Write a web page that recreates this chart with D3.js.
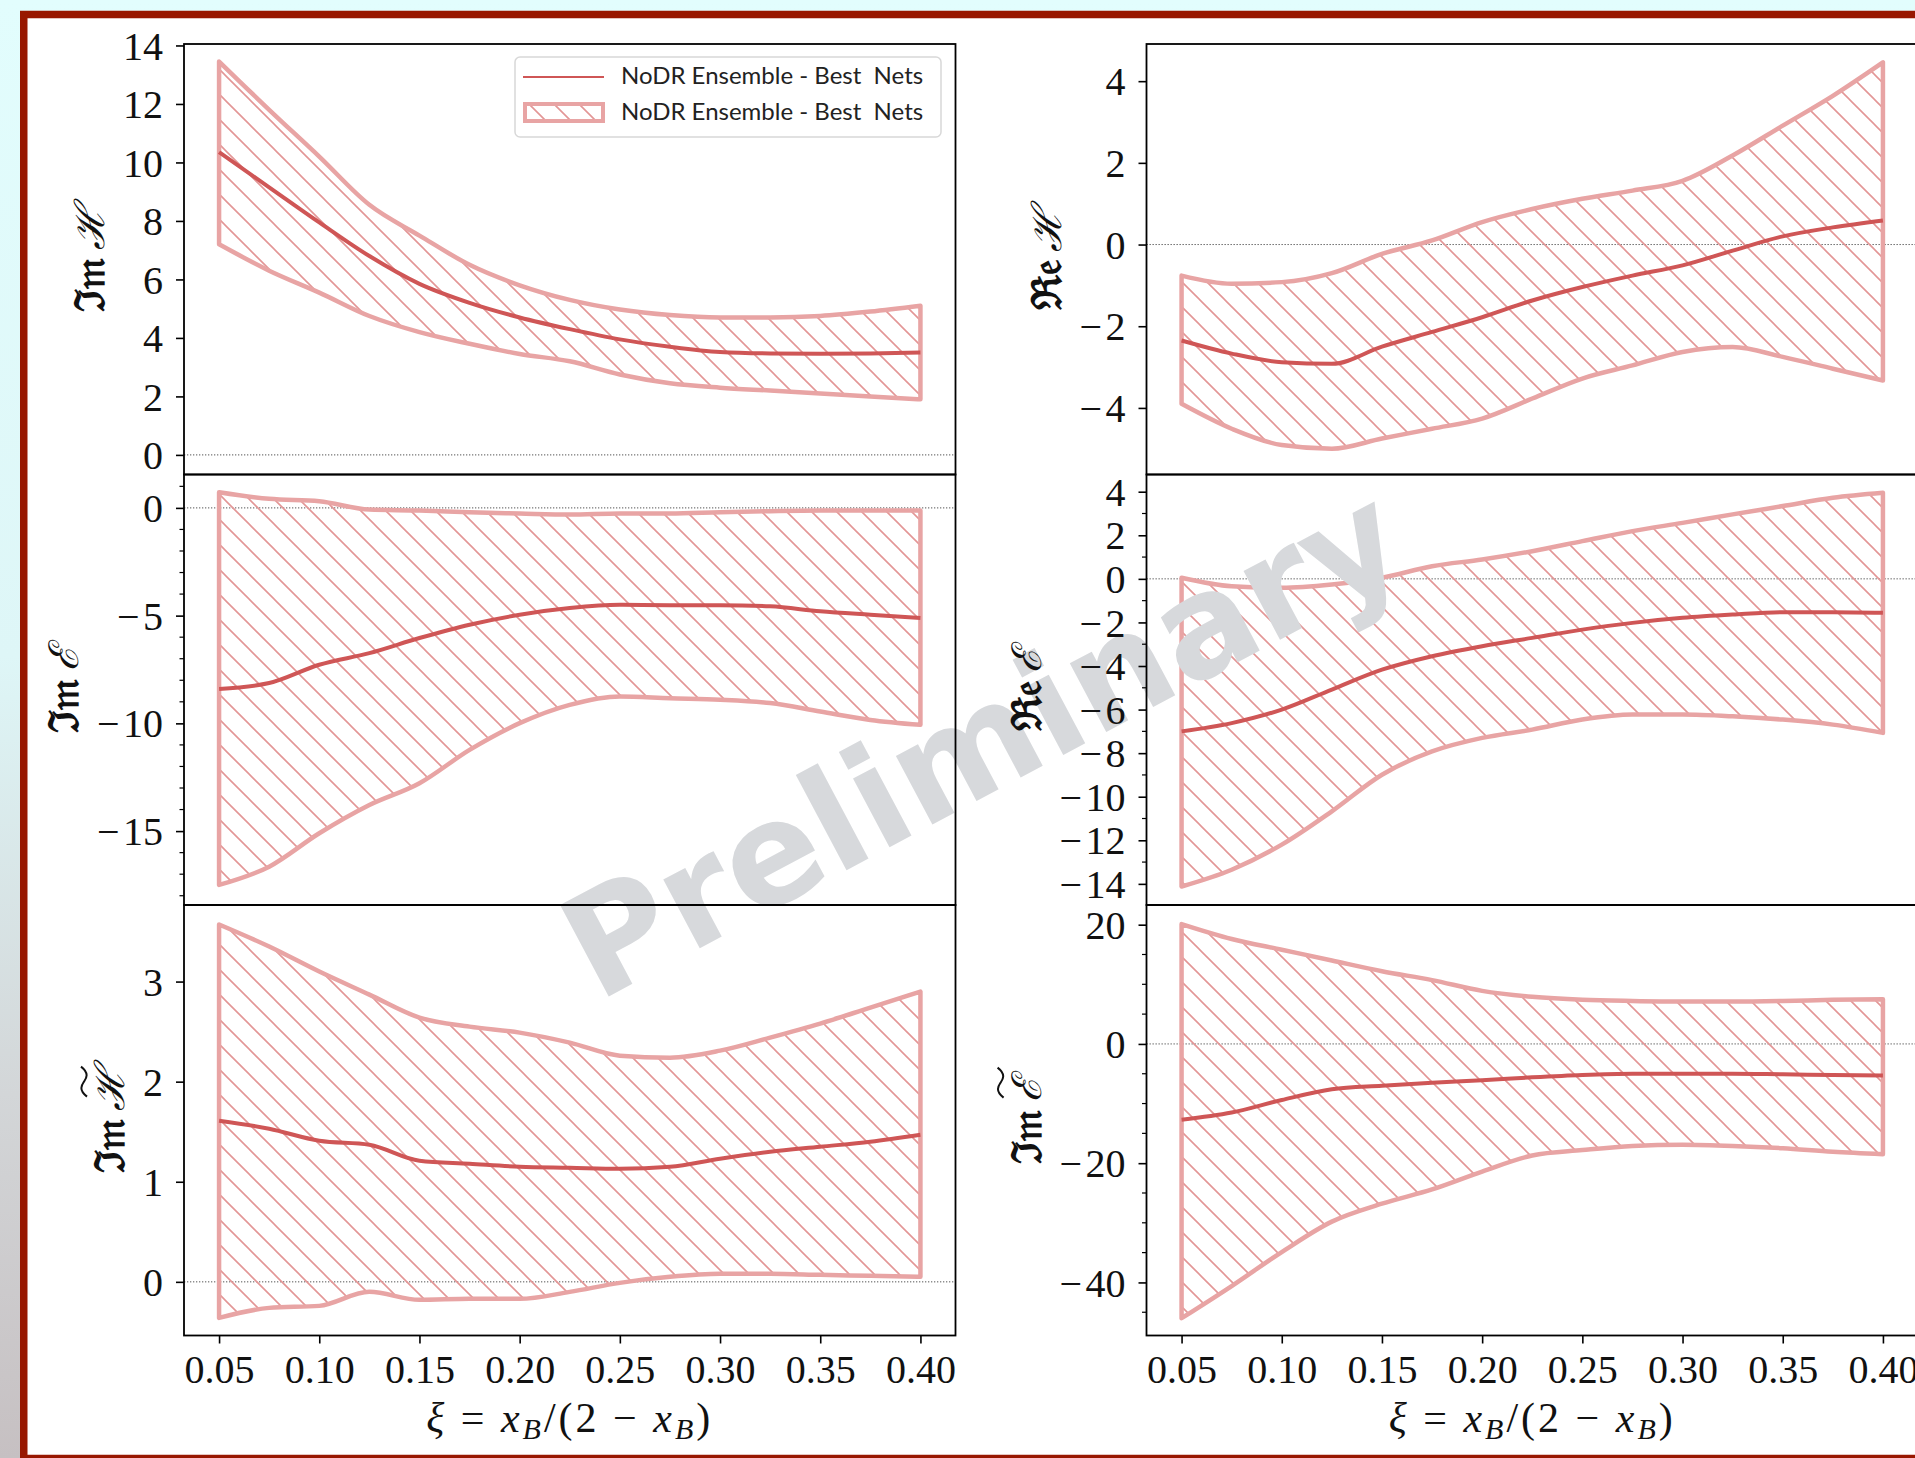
<!DOCTYPE html>
<html>
<head>
<meta charset="utf-8">
<script src="https://cdn.jsdelivr.net/npm/d3@7"></script>
<style>
  body { margin: 0; background: #e2fcfd; }
</style>
</head>
<body>
<div id="main-section"></div>
<script>
// xi grid shared by all six panels
const xi = [0.05, 0.075, 0.10, 0.125, 0.15, 0.175, 0.20, 0.225, 0.25, 0.275, 0.30, 0.325, 0.35, 0.375, 0.40];
const xTicks = [0.05, 0.10, 0.15, 0.20, 0.25, 0.30, 0.35, 0.40];

// Im H
const imH_mean  = [10.35, 9.15, 7.95, 6.8, 5.85, 5.2, 4.7, 4.3, 3.95, 3.7, 3.52, 3.47, 3.46, 3.47, 3.5];
const imH_upper = [13.45, 11.8, 10.2, 8.55, 7.5, 6.5, 5.8, 5.3, 4.97, 4.78, 4.7, 4.7, 4.75, 4.9, 5.1];
const imH_lower = [7.2, 6.3, 5.55, 4.75, 4.2, 3.8, 3.45, 3.2, 2.75, 2.45, 2.3, 2.2, 2.1, 2.0, 1.9];
const imH_ticks = [0, 2, 4, 6, 8, 10, 12, 14];

// Re H
const reH_mean  = [-2.35, -2.67, -2.88, -2.92, -2.5, -2.14, -1.78, -1.37, -1.04, -0.76, -0.51, -0.15, 0.2, 0.42, 0.59];
const reH_upper = [-0.76, -0.96, -0.92, -0.7, -0.23, 0.1, 0.55, 0.87, 1.12, 1.32, 1.56, 2.18, 2.91, 3.64, 4.46];
const reH_lower = [-3.9, -4.51, -4.91, -5.0, -4.75, -4.51, -4.26, -3.77, -3.28, -2.96, -2.63, -2.51, -2.75, -3.04, -3.33];
const reH_ticks = [-4, -2, 0, 2, 4];

// Im E
const imE_mean  = [-8.4, -8.13, -7.28, -6.74, -6.04, -5.42, -4.96, -4.65, -4.5, -4.52, -4.52, -4.57, -4.8, -4.96, -5.11];
const imE_upper = [0.73, 0.42, 0.31, -0.08, -0.12, -0.2, -0.26, -0.31, -0.26, -0.26, -0.2, -0.15, -0.12, -0.12, -0.12];
const imE_lower = [-17.5, -16.65, -15.1, -13.79, -12.78, -11.23, -9.99, -9.14, -8.75, -8.83, -8.9, -9.06, -9.45, -9.84, -10.07];
const imE_ticks = [-15, -10, -5, 0];

// Re E
const reE_mean  = [-7.0, -6.62, -6.0, -5.08, -4.17, -3.55, -3.09, -2.71, -2.33, -2.02, -1.79, -1.64, -1.53, -1.53, -1.56];
const reE_upper = [0.05, -0.34, -0.41, -0.26, 0.05, 0.58, 0.89, 1.27, 1.73, 2.19, 2.57, 2.96, 3.34, 3.72, 3.95];
const reE_lower = [-14.12, -13.35, -12.2, -10.67, -8.99, -7.92, -7.3, -6.92, -6.46, -6.23, -6.23, -6.31, -6.46, -6.69, -7.07];
const reE_ticks = [-14, -12, -10, -8, -6, -4, -2, 0, 2, 4];

// Im H tilde
const imHt_mean  = [1.61, 1.53, 1.41, 1.37, 1.21, 1.18, 1.15, 1.14, 1.13, 1.15, 1.23, 1.30, 1.35, 1.40, 1.47];
const imHt_upper = [3.57, 3.35, 3.1, 2.87, 2.64, 2.55, 2.49, 2.39, 2.26, 2.24, 2.31, 2.44, 2.58, 2.74, 2.9];
const imHt_lower = [-0.36, -0.26, -0.24, -0.1, -0.18, -0.17, -0.17, -0.1, -0.01, 0.05, 0.08, 0.08, 0.07, 0.06, 0.05];
const imHt_ticks = [0, 1, 2, 3];

// Im E tilde
const imEt_mean  = [-12.7, -11.5, -9.4, -7.6, -7.0, -6.5, -6.1, -5.6, -5.2, -5.0, -5.0, -5.0, -5.1, -5.2, -5.3];
const imEt_upper = [20.1, 17.6, 15.8, 14.0, 12.2, 10.7, 8.9, 7.9, 7.4, 7.2, 7.1, 7.1, 7.2, 7.4, 7.5];
const imEt_lower = [-46.0, -40.6, -34.9, -29.8, -26.8, -24.4, -21.4, -18.7, -17.8, -17.1, -16.9, -17.1, -17.5, -18.1, -18.5];
const imEt_ticks = [-40, -20, 0, 20];

const legendLabel = "NoDR Ensemble - Best  Nets";

const W = 1915, H = 1458;
const colX = [184, 1146.5];
const rowY = [44, 474.5, 905];
const panelW = 771.5, panelH = 430.5;
const xDomain = [0.0325, 0.4175];

const lineColor = "#cf5656";
const bandColor = "#e8a4a4";
const hatchColor = "#e39696";
const serif = "\"Liberation Serif\", \"DejaVu Serif\", serif";

const panels = [
  { col: 0, row: 0, mean: imH_mean, up: imH_upper, lo: imH_lower, dom: [-0.67, 14.05], ticks: imH_ticks, minor: null, fr: "\u2111\u{1D52A}", sym: "\u210B", tilde: false, legend: true },
  { col: 1, row: 0, mean: reH_mean, up: reH_upper, lo: reH_lower, dom: [-5.63, 4.91], ticks: reH_ticks, minor: null, fr: "\u211C\u{1D522}", sym: "\u210B", tilde: false },
  { col: 0, row: 1, mean: imE_mean, up: imE_upper, lo: imE_lower, dom: [-18.43, 1.55], ticks: imE_ticks, minor: 1, fr: "\u2111\u{1D52A}", sym: "\u2130", tilde: false },
  { col: 1, row: 1, mean: reE_mean, up: reE_upper, lo: reE_lower, dom: [-14.97, 4.79], ticks: reE_ticks, minor: 1, fr: "\u211C\u{1D522}", sym: "\u2130", tilde: false },
  { col: 0, row: 2, mean: imHt_mean, up: imHt_upper, lo: imHt_lower, dom: [-0.536, 3.765], ticks: imHt_ticks, minor: null, fr: "\u2111\u{1D52A}", sym: "\u210B", tilde: true, xaxis: true },
  { col: 1, row: 2, mean: imEt_mean, up: imEt_upper, lo: imEt_lower, dom: [-48.9, 23.3], ticks: imEt_ticks, minor: 5, fr: "\u2111\u{1D52A}", sym: "\u2130", tilde: true, xaxis: true }
];

const svg = d3.select("#main-section")
  .append("svg")
    .attr("width", W)
    .attr("height", H)
    .style("display", "block");

const defs = svg.append("defs");

const grad = defs.append("linearGradient")
  .attr("id", "bg-grad")
  .attr("x1", 0).attr("y1", 0).attr("x2", 0).attr("y2", 1);
grad.append("stop").attr("offset", "0%").attr("stop-color", "#e2fdfd");
grad.append("stop").attr("offset", "45%").attr("stop-color", "#def6f7");
grad.append("stop").attr("offset", "75%").attr("stop-color", "#d3d6d8");
grad.append("stop").attr("offset", "100%").attr("stop-color", "#c6c0c2");

const hatch = defs.append("pattern")
  .attr("id", "hatch")
  .attr("patternUnits", "userSpaceOnUse")
  .attr("width", 25)
  .attr("height", 25);
hatch.append("path")
  .attr("d", "M0,0L25,25M-5,20L5,30M20,-5L30,5")
  .attr("stroke", hatchColor)
  .attr("stroke-width", 1.6)
  .attr("fill", "none");

// background + frame
svg.append("rect").attr("x", 0).attr("y", 0).attr("width", W).attr("height", H).attr("fill", "url(#bg-grad)");
svg.append("rect")
  .attr("x", 23.75).attr("y", 14.5)
  .attr("width", W + 40).attr("height", 1444)
  .attr("fill", "white")
  .attr("stroke", "#981700")
  .attr("stroke-width", 7.5);

const dataLayer = svg.append("g");
const markLayer = svg.append("g");
const axisLayer = svg.append("g");

function fmtY(d) { return d < 0 ? "\u2212\u200A" + Math.abs(d) : String(d); }

panels.forEach(function(p, i) {
  const x0 = colX[p.col], y0 = rowY[p.row];
  const x = d3.scaleLinear().domain(xDomain).range([x0, x0 + panelW]);
  const y = d3.scaleLinear().domain(p.dom).range([y0 + panelH, y0]);

  defs.append("clipPath").attr("id", "clip-" + i)
    .append("rect").attr("x", x0).attr("y", y0).attr("width", panelW).attr("height", panelH);

  const g = dataLayer.append("g").attr("clip-path", "url(#clip-" + i + ")");

  // zero line
  g.append("line")
    .attr("x1", x0).attr("x2", x0 + panelW)
    .attr("y1", y(0)).attr("y2", y(0))
    .attr("stroke", "#555")
    .attr("stroke-width", 1)
    .attr("stroke-dasharray", "1.3,1.7");

  const band = d3.area()
    .x(function(d, k) { return x(xi[k]); })
    .y0(function(d, k) { return y(p.lo[k]); })
    .y1(function(d, k) { return y(p.up[k]); })
    .curve(d3.curveMonotoneX);

  g.append("path")
    .datum(xi)
    .attr("d", band)
    .attr("fill", "url(#hatch)")
    .attr("stroke", bandColor)
    .attr("stroke-width", 4.5)
    .attr("stroke-linejoin", "round");

  const line = d3.line()
    .x(function(d, k) { return x(xi[k]); })
    .y(function(d) { return y(d); })
    .curve(d3.curveMonotoneX);

  g.append("path")
    .datum(p.mean)
    .attr("d", line)
    .attr("fill", "none")
    .attr("stroke", lineColor)
    .attr("stroke-width", 4);

  // axes
  const a = axisLayer.append("g");

  const yAxis = a.append("g")
    .attr("transform", "translate(" + x0 + ",0)")
    .call(d3.axisLeft(y).tickValues(p.ticks).tickSize(8).tickPadding(13).tickFormat(fmtY));
  yAxis.attr("font-family", null).attr("font-size", null);
  yAxis.select(".domain").remove();
  yAxis.selectAll(".tick line").attr("stroke", "#000").attr("stroke-width", 1.6);
  yAxis.selectAll(".tick text")
    .style("font-family", serif)
    .style("font-size", "40px")
    .attr("fill", "#111")
    .attr("dy", "0.34em");

  if (p.minor) {
    const minorTicks = d3.range(Math.ceil(p.dom[0] / p.minor) * p.minor, p.dom[1], p.minor)
      .filter(function(v) { return p.ticks.indexOf(Math.round(v * 1000) / 1000) < 0; });
    a.selectAll(null)
      .data(minorTicks).enter()
      .append("line")
        .attr("x1", x0 - 4.5).attr("x2", x0)
        .attr("y1", function(d) { return y(d); })
        .attr("y2", function(d) { return y(d); })
        .attr("stroke", "#000")
        .attr("stroke-width", 1.2);
  }

  if (p.xaxis) {
    const xAxis = a.append("g")
      .attr("transform", "translate(0," + (y0 + panelH) + ")")
      .call(d3.axisBottom(x).tickValues(xTicks).tickSize(8).tickPadding(9)
        .tickFormat(d3.format(".2f")));
    xAxis.attr("font-family", null).attr("font-size", null);
    xAxis.select(".domain").remove();
    xAxis.selectAll(".tick line").attr("stroke", "#000").attr("stroke-width", 1.6);
    xAxis.selectAll(".tick text")
      .style("font-family", serif)
      .style("font-size", "40px")
      .attr("fill", "#111")
      .attr("dy", "0.76em");

    const xl = a.append("text")
      .attr("x", x0 + panelW / 2)
      .attr("y", 1432)
      .attr("text-anchor", "middle")
      .style("font-family", serif)
      .style("font-size", "42px")
      .style("letter-spacing", "3px")
      .attr("fill", "#111");
    xl.append("tspan").attr("font-style", "italic").text("\u03BE");
    xl.append("tspan").text(" = ");
    xl.append("tspan").attr("font-style", "italic").text("x");
    xl.append("tspan").attr("font-style", "italic").style("font-size", "30px").attr("dy", 7).text("B");
    xl.append("tspan").attr("dy", -7).text("/(2 \u2212 ");
    xl.append("tspan").attr("font-style", "italic").text("x");
    xl.append("tspan").attr("font-style", "italic").style("font-size", "30px").attr("dy", 7).text("B");
    xl.append("tspan").attr("dy", -7).text(")");
  }

  // frame
  a.append("rect")
    .attr("x", x0).attr("y", y0)
    .attr("width", panelW).attr("height", panelH)
    .attr("fill", "none")
    .attr("stroke", "#000")
    .attr("stroke-width", 1.8);

  // y label placed left of the widest tick label
  let minX = Infinity;
  yAxis.selectAll(".tick text").each(function() {
    const b = this.getBBox();
    minX = Math.min(minX, x0 + b.x);
  });
  const lx = minX - 19;
  const ly = y0 + panelH / 2;
  const lab = a.append("g")
    .attr("transform", "translate(" + lx + "," + ly + ") rotate(-90)");
  const yl = lab.append("text")
    .attr("text-anchor", "middle")
    .style("font-family", "\"DejaVu Serif\", serif")
    .style("font-size", "41px")
    .attr("fill", "#111");
  yl.append("tspan").attr("font-weight", "bold").text(p.fr + "\u2009");
  const symSpan = yl.append("tspan").attr("font-style", "italic").text(p.sym);
  if (p.tilde) {
    const sb = symSpan.node().getBBox();
    const cx = sb.x + sb.width / 2 + 3;
    const ty = sb.y - 1;
    lab.append("path")
      .attr("d", "M" + (cx - 15) + "," + (ty + 2) +
                 " C" + (cx - 8) + "," + (ty - 7) + " " + (cx - 3) + "," + (ty - 3) + " " + cx + "," + (ty - 1) +
                 " C" + (cx + 3) + "," + (ty + 1) + " " + (cx + 8) + "," + (ty + 5) + " " + (cx + 15) + "," + (ty - 4))
      .attr("fill", "none")
      .attr("stroke", "#111")
      .attr("stroke-width", 2);
  }

  if (p.legend) {
    const lg = a.append("g");
    lg.append("rect")
      .attr("x", 515).attr("y", 57).attr("width", 426).attr("height", 80).attr("rx", 5)
      .attr("fill", "white").attr("fill-opacity", 0.85)
      .attr("stroke", "#d8d8d8").attr("stroke-width", 1.5);
    lg.append("line")
      .attr("x1", 523).attr("x2", 604).attr("y1", 77).attr("y2", 77)
      .attr("stroke", lineColor).attr("stroke-width", 2);
    lg.append("rect")
      .attr("x", 525).attr("y", 104).attr("width", 78).attr("height", 17)
      .attr("fill", "url(#hatch)")
      .attr("stroke", bandColor).attr("stroke-width", 4);
    [84, 120].forEach(function(by) {
      lg.append("text")
        .attr("x", 621).attr("y", by)
        .style("font-family", "Lato, \"DejaVu Sans\", sans-serif")
        .style("font-size", "24px")
        .style("white-space", "pre")
        .attr("fill", "#222")
        .text(legendLabel);
    });
  }
});

// watermark between data and axes
markLayer.append("text")
  .attr("transform", "translate(982,742) rotate(-28)")
  .attr("text-anchor", "middle")
  .attr("dominant-baseline", "central")
  .style("font-family", "\"DejaVu Sans\", sans-serif")
  .style("font-weight", "bold")
  .style("font-size", "142px")
  .attr("fill", "#d7d9dc")
  .text("Preliminary");
</script>
</body>
</html>
